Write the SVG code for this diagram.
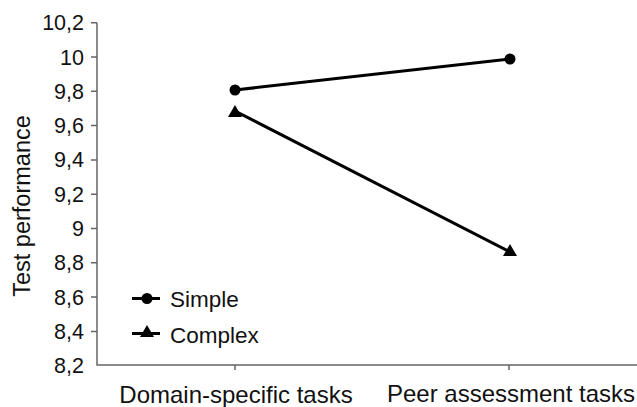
<svg xmlns="http://www.w3.org/2000/svg" width="637" height="407" viewBox="0 0 637 407">
<style>
text{font-family:"Liberation Sans",Arial,sans-serif;font-size:24px;fill:#111}
.ytl text{text-anchor:end;font-size:21.5px}
.leg{font-size:22.5px}
.axis{stroke:#666;stroke-width:1.5;fill:none}
.series{stroke:#000;stroke-width:3;fill:none}
.mk{fill:#000}
</style>
<defs>
<circle id="dot" r="5.5" class="mk"/>
<polygon id="tri" points="0,-7 7,5 -7,5" class="mk"/>
</defs>
<rect width="637" height="407" fill="#fff"/>
<g id="axes">
<path class="axis" d="M97,22.7V365H637M91,22.7H97M91,57H97M91,91.3H97M91,125.6H97M91,159.9H97M91,194.2H97M91,228.5H97M91,262.8H97M91,297.1H97M91,331.4H97M235,365v5M509,365v5"/>
<g class="ytl">
<text x="84" y="30">10,2</text>
<text x="84" y="64.5">10</text>
<text x="84" y="98.8">9,8</text>
<text x="84" y="133">9,6</text>
<text x="84" y="167.4">9,4</text>
<text x="84" y="201.7">9,2</text>
<text x="84" y="236">9</text>
<text x="84" y="270.3">8,8</text>
<text x="84" y="304.6">8,6</text>
<text x="84" y="338.9">8,4</text>
<text x="84" y="372.5">8,2</text>
</g>
<text x="236" y="402.5" text-anchor="middle">Domain-specific tasks</text>
<text x="511" y="401.5" text-anchor="middle">Peer assessment tasks</text>
<text transform="translate(30,206) rotate(-90)" text-anchor="middle" style="font-size:23.5px">Test performance</text>
</g>
<g id="connectors">
<line class="series" x1="235" y1="90" x2="510" y2="59"/>
<line class="series" x1="235" y1="111" x2="510" y2="252"/>
</g>
<g id="simple-domain"><use href="#dot" x="235" y="90"/></g>
<g id="simple-peer"><use href="#dot" x="510" y="59"/></g>
<g id="complex-domain"><use href="#tri" x="235" y="112"/></g>
<g id="complex-peer"><use href="#tri" x="510" y="251"/></g>
<g id="legend">
<line class="series" x1="132" y1="298.5" x2="160" y2="298.5"/>
<use href="#dot" x="147" y="298.5"/>
<text class="leg" x="170" y="307">Simple</text>
<line class="series" x1="132" y1="333.5" x2="160" y2="333.5"/>
<use href="#tri" x="147" y="332"/>
<text class="leg" x="170" y="342.5">Complex</text>
</g>
</svg>
